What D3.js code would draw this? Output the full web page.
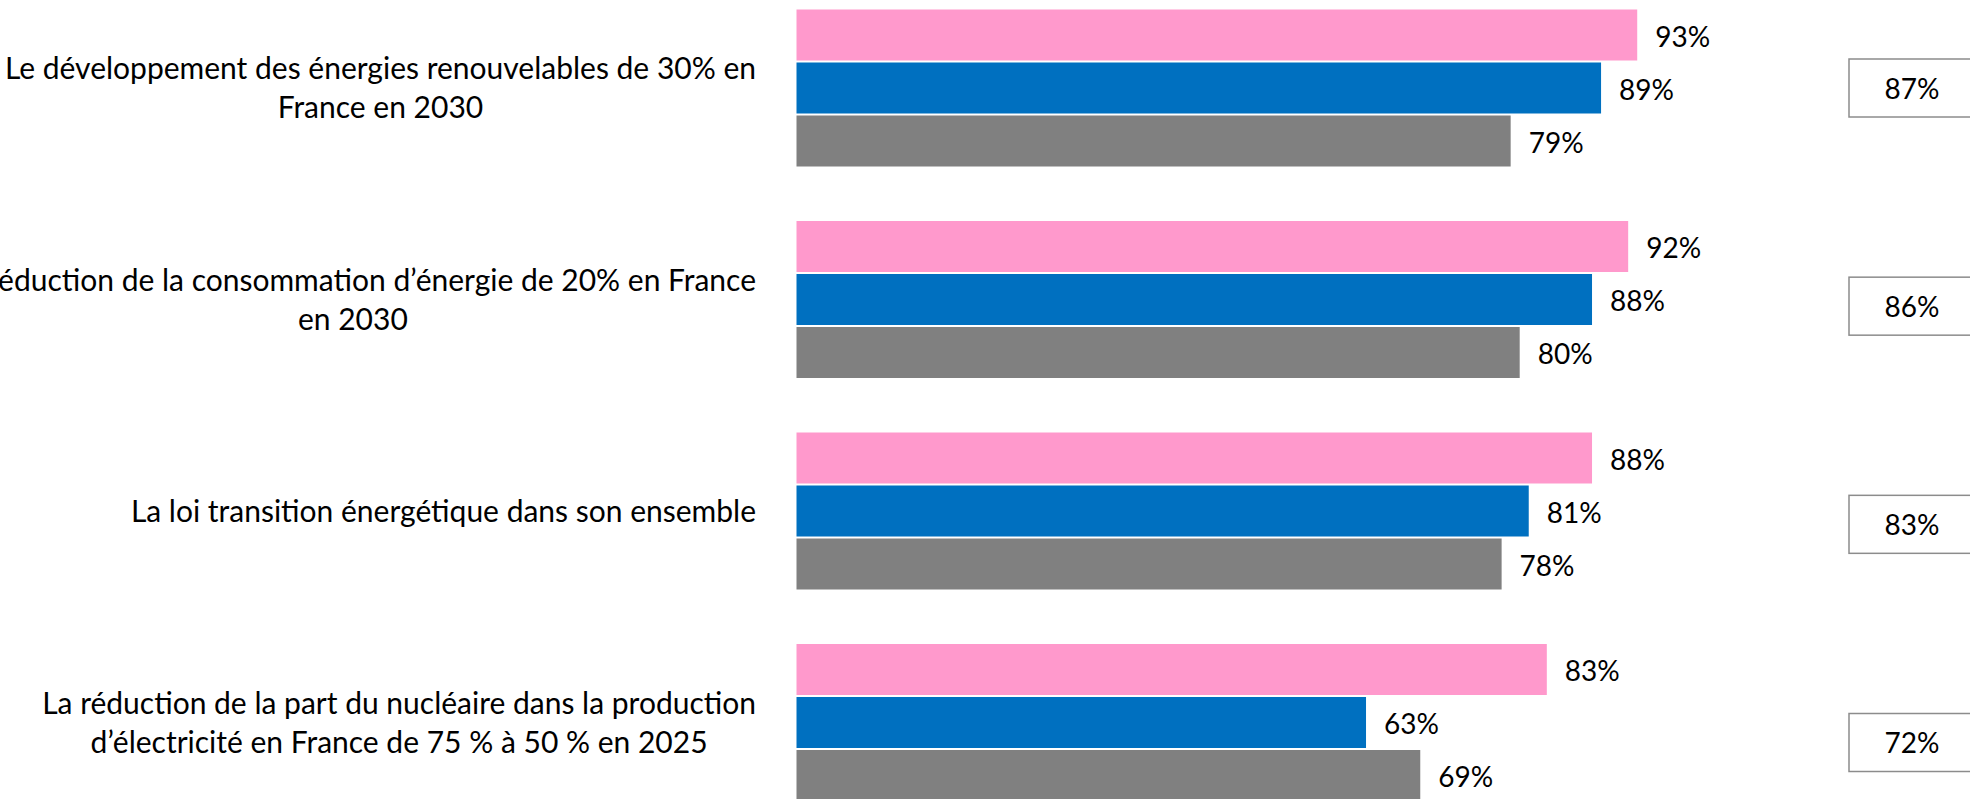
<!DOCTYPE html>
<html>
<head>
  <meta charset="utf-8">
  <title>Loi transition énergétique</title>
  <script src="https://d3js.org/d3.v7.min.js"></script>
  <style>
    body { margin: 0; background: white; }
    text { font-family: Lato, "Open Sans", sans-serif; fill: #000; }
  </style>
</head>
<body>
<div id="output"></div>

<script type="text/javascript">

  // categories, one per group (split into lines as in the original)
  var categories = ["renouvelables", "consommation", "loi", "nucleaire"];
  var labelLines = [
    ["Le développement des énergies renouvelables de 30% en", "France en 2030"],
    ["La réduction de la consommation d’énergie de 20% en France", "en 2030"],
    ["La loi transition énergétique dans son ensemble "],
    ["La réduction de la part du nucléaire dans la production", "d’électricité en France de 75 % à 50 % en 2025"]
  ];
  var series = ["pink", "blue", "grey"];
  var pinkValues = [93, 92, 88, 83];
  var blueValues = [89, 88, 81, 63];
  var greyValues = [79, 80, 78, 69];
  var totalValues = [87, 86, 83, 72];

  var colors = {pink: "#ff99cc", blue: "#0070c0", grey: "#808080"};

  var w = 1970;
  var h = 799;

  var svg = d3.select("#output").append("svg")
          .attr("width", w)
          .attr("height", h);

  var x = d3.scaleLinear()
          .domain([0, 100])
          .range([796.5, 796.5 + 904]);

  var y0 = d3.scaleBand()
          .domain(categories)
          .range([9.5, 9.5 + 4 * 211.5]);

  var y1 = d3.scaleBand()
          .domain(series)
          .range([0, 157])
          .paddingInner(2 / 53);

  var yBox = d3.scalePoint()
          .domain(categories)
          .range([88, 742.5]);

  var rows = categories.map(function(c, i) {
    return {
      cat: c,
      lines: labelLines[i],
      total: totalValues[i],
      bars: [
        {s: "pink", v: pinkValues[i]},
        {s: "blue", v: blueValues[i]},
        {s: "grey", v: greyValues[i]}
      ]
    };
  });

  var groups = svg.selectAll(".group")
          .data(rows)
          .enter()
          .append("g")
          .attr("class", "group")
          .attr("transform", function(d){ return "translate(0," + y0(d.cat) + ")"; });

  groups.selectAll(".bar")
          .data(function(d){ return d.bars; })
          .enter()
          .append("rect")
          .attr("class", "bar")
          .attr("x", x(0))
          .attr("y", function(d){ return y1(d.s); })
          .attr("width", function(d){ return x(d.v) - x(0); })
          .attr("height", y1.bandwidth())
          .attr("fill", function(d){ return colors[d.s]; });

  groups.selectAll(".val")
          .data(function(d){ return d.bars; })
          .enter()
          .append("text")
          .attr("class", "val")
          .attr("x", function(d){ return x(d.v) + 18; })
          .attr("y", function(d){ return y1(d.s) + y1.bandwidth() / 2; })
          .attr("dy", "0.42em")
          .style("font-size", "28px")
          .text(function(d){ return d.v + "%"; });

  // category labels: centred lines, widest line right-aligned next to the bars
  var labelRight = 756;
  var lineH = 39;
  groups.each(function(d) {
    var g = d3.select(this);
    var mid = y1("blue") + y1.bandwidth() / 2;
    var t = g.append("text")
            .attr("class", "cat")
            .style("font-size", "30px")
            .attr("text-anchor", "middle");
    var spans = t.selectAll("tspan")
            .data(d.lines)
            .enter()
            .append("tspan")
            .attr("y", function(l, i){ return mid + (i - (d.lines.length - 1) / 2) * lineH; })
            .attr("dy", "0.35em")
            .text(function(l){ return l; });
    var maxW = 0;
    spans.each(function(){ maxW = Math.max(maxW, this.getComputedTextLength()); });
    spans.attr("x", labelRight - maxW / 2);
  });

  // totals in boxes at the right
  var boxes = svg.selectAll(".box")
          .data(rows)
          .enter()
          .append("g")
          .attr("class", "box")
          .attr("transform", function(d){ return "translate(1849," + yBox(d.cat) + ")"; });

  boxes.append("rect")
          .attr("x", 0)
          .attr("y", -29)
          .attr("width", 126)
          .attr("height", 58)
          .attr("fill", "white")
          .attr("stroke", "#8c8c8c")
          .attr("stroke-width", 1.5);

  boxes.append("text")
          .attr("x", 63)
          .attr("y", 0)
          .attr("dy", "0.38em")
          .attr("text-anchor", "middle")
          .style("font-size", "28px")
          .text(function(d){ return d.total + "%"; });

</script>
</body>
</html>
